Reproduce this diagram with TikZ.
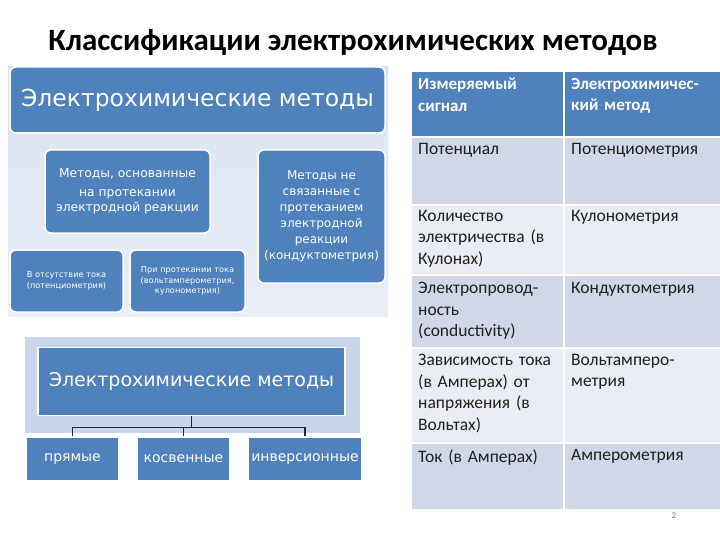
\documentclass[tikz,border=0pt]{standalone}
\usepackage{fontspec}
\setmainfont{Carlito}
\newfontfamily\dv{DejaVu Sans}
\definecolor{dblue}{HTML}{4F81BD}
\definecolor{rowa}{HTML}{D0D8E8}
\definecolor{rowb}{HTML}{E9EDF4}
\definecolor{panel}{HTML}{C9D6EA}
\definecolor{txt}{HTML}{1F1F1F}
\begin{document}
\begin{tikzpicture}[x=1pt,y=-1pt,
  bx/.style={fill=dblue,draw=white,line width=1.5pt,rounded corners=6pt,text=white,align=center,font=\dv\fontsize{12.3}{15}\selectfont},
  sq/.style={fill=dblue,draw=white,line width=1.5pt,text=white,align=center,font=\dv\fontsize{14}{17}\selectfont},
  cell/.style={anchor=north west,align=left,text width=148pt,font=\fontsize{17.5}{21.5}\selectfont,text=txt,inner sep=0pt}]
\useasboundingbox (0,0) rectangle (720,540);
\fill[white] (0,0) rectangle (720,540);
\node[font=\bfseries\fontsize{31}{34}\selectfont] (title) at (353,42) {Классификации электрохимических методов};
% upper panel
\shade[top color=panel!70,bottom color=panel!40!white] (8,67) rectangle (388,316);
\node[bx,minimum width=375pt,minimum height=66pt,font=\dv\fontsize{23.5}{26}\selectfont] (top) at (197.5,100) {Электрохимические методы};
\node[bx,minimum width=165pt,minimum height=83pt] (m1) at (127.5,191.5) {Методы, основанные\\[4pt] на протекании\\электродной реакции};
\node[bx,minimum width=127pt,minimum height=133pt,font=\dv\fontsize{12}{16}\selectfont] (m2) at (321.5,216.5) {Методы не\\связанные с\\протеканием\\электродной\\реакции\\(кондуктометрия)};
\node[bx,minimum width=113pt,minimum height=62pt,font=\dv\fontsize{8.2}{10.5}\selectfont] (m3) at (66.5,281) {В отсутствие тока\\(потенциометрия)};
\node[bx,minimum width=115pt,minimum height=62pt,font=\dv\fontsize{8.2}{10.5}\selectfont] (m4) at (187.5,281) {При протекании тока\\(вольтамперометрия,\\кулонометрия)};
% lower panel
\fill[panel] (25,337) rectangle (360,433);
\node[sq,minimum width=307pt,minimum height=68pt,font=\dv\fontsize{19}{22}\selectfont] (big) at (191.5,381.5) {Электрохимические методы};
\node[sq,minimum width=92pt,minimum height=44pt] (p1) at (72.5,459) {прямые};
\node[sq,minimum width=93pt,minimum height=44pt] (p2) at (183.5,459) {косвенные};
\node[sq,minimum width=110pt,minimum height=44pt] (p3) at (305,459) {инверсионные};
\draw[draw=black!70!dblue,line width=1.2pt] (big.south) -- ++(0,11) coordinate (j);
\draw[draw=black!70!dblue,line width=1.2pt] (p1.north|-j) -- (p3.north|-j);
\foreach \p in {p1,p2,p3}{\draw[draw=black!70!dblue,line width=1.2pt] (\p.north|-j) -- (\p.north);}
% table
\fill[dblue] (412,72) rectangle (720,137);
\fill[rowa] (412,137) rectangle (720,205);
\fill[rowb] (412,205) rectangle (720,275);
\fill[rowa] (412,275) rectangle (720,348);
\fill[rowb] (412,348) rectangle (720,443);
\fill[rowa] (412,443) rectangle (720,510);
\foreach \y in {137,205,275,348,443,510}{\draw[white,line width=1.5pt] (412,\y) -- (720,\y);}
\draw[white,line width=1.5pt] (564,72) -- (564,510);
\node[cell,text=white,font=\bfseries\fontsize{17}{21.5}\selectfont] (h1) at (418,78) {Измеряемый\\сигнал};
\node[cell,text=white,font=\bfseries\fontsize{17}{21.5}\selectfont] (h2) at (571,78) {Электрохимичес-\\кий метод};
\node[cell] (a1) at (418,143) {Потенциал};
\node[cell] (b1) at (571,143) {Потенциометрия};
\node[cell] (a2) at (418,210) {Количество\\электричества (в\\Кулонах)};
\node[cell] (b2) at (571,210) {Кулонометрия};
\node[cell] (a3) at (418,282) {Электропровод-\\ность\\(conductivity)};
\node[cell] (b3) at (571,282) {Кондуктометрия};
\node[cell] (a4) at (418,354) {Зависимость тока\\(в Амперах) от\\напряжения (в\\Вольтах)};
\node[cell] (b4) at (571,354) {Вольтамперо-\\метрия};
\node[cell] (a5) at (418,449) {Ток (в Амперах)};
\node[cell] (b5) at (571,449) {Амперометрия};
\node[font=\fontsize{9}{10}\selectfont,text=gray] (pg) at (674,516) {2};
\end{tikzpicture}
\end{document}
